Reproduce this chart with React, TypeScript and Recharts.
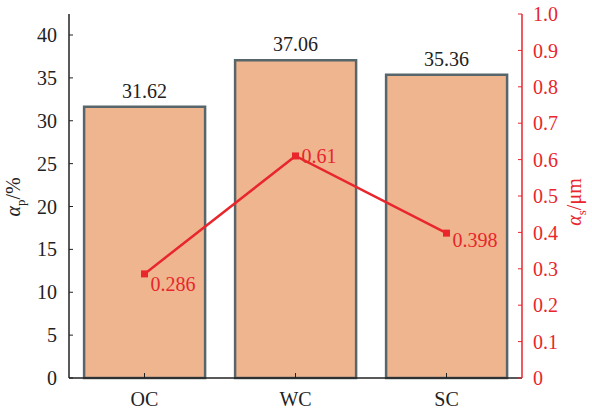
import { ComposedChart, Bar, Line, XAxis, YAxis, LabelList, Label } from 'recharts';

const groups = ['OC', 'WC', 'SC'];
const porosity = [31.62, 37.06, 35.36];
const poreSize = [0.286, 0.61, 0.398];

const leftTicks = [0, 5, 10, 15, 20, 25, 30, 35, 40];
const rightTicks = [0, 0.1, 0.2, 0.3, 0.4, 0.5, 0.6, 0.7, 0.8, 0.9, 1.0];

const data = groups.map((g, i) => ({ name: g, ap: porosity[i], as: poreSize[i] }));

const FONT = "'Liberation Serif', 'DejaVu Serif', serif";
const RED = '#e8262c';
const DARK = '#222';

// vertical nudges for the red point labels
const pointLabelDy = [17, 7, 14];

const PointLabel = (props: any) => {
  const { x, y, value, index } = props;
  return (
    <text x={x + 6} y={y + pointLabelDy[index]} fill={RED} fontSize={20} style={{ fontFamily: FONT }} textAnchor="start">
      {value}
    </text>
  );
};

const SquareDot = (props: any) => {
  const { cx, cy } = props;
  return <rect x={cx - 3.5} y={cy - 3.5} width={7} height={7} fill={RED} />;
};

const LeftTitle = () => (
  <text x={20} y={197} transform="rotate(-90, 20, 197)" textAnchor="middle" style={{ fontFamily: FONT }} fontSize={20} fill={DARK}>
    <tspan fontStyle="italic">α</tspan>
    <tspan fontSize={13} dy={5}>p</tspan>
    <tspan dy={-5}>/%</tspan>
  </text>
);

const RightTitle = () => (
  <text x={581} y={202} transform="rotate(-90, 581, 202)" textAnchor="middle" style={{ fontFamily: FONT }} fontSize={20} fill={RED}>
    <tspan fontStyle="italic">α</tspan>
    <tspan fontSize={13} dy={5}>s</tspan>
    <tspan dy={-5}>/μm</tspan>
  </text>
);

const tickStyle = (fill: string) => ({ fill, fontSize: 20, style: { fontFamily: FONT } });

export default function App() {
  return (
    <div style={{ position: 'absolute', left: 0, top: 0, width: 592, height: 412, background: '#fff', fontFamily: FONT }}>
      <ComposedChart
        width={592}
        height={412}
        data={data}
        margin={{ top: 14, right: 0, bottom: 0, left: 0 }}
        barCategoryGap="10%"
        style={{ fontFamily: FONT }}
      >
        <XAxis
          dataKey="name"
          height={34}
          axisLine={{ stroke: DARK, strokeWidth: 1.5 }}
          tickLine={{ stroke: DARK }}
          tickSize={-5}
          tickMargin={19}
          tick={tickStyle(DARK)}
        />
        <XAxis
          xAxisId="top"
          dataKey="name"
          orientation="top"
          height={0}
          tick={false}
          tickLine={false}
          axisLine={{ stroke: DARK, strokeWidth: 1.5 }}
        />
        <YAxis
          yAxisId="left"
          width={69}
          domain={[0, 42.45]}
          ticks={leftTicks}
          interval={0}
          axisLine={{ stroke: DARK, strokeWidth: 1.5 }}
          tickLine={{ stroke: DARK }}
          tickSize={-4}
          tickMargin={16}
          tick={tickStyle(DARK)}
        >
          <Label content={<LeftTitle />} />
        </YAxis>
        <YAxis
          yAxisId="right"
          orientation="right"
          width={70}
          domain={[0, 1]}
          ticks={rightTicks}
          interval={0}
          tickFormatter={(v: number) => (v === 0 ? '0' : v.toFixed(1))}
          axisLine={{ stroke: RED, strokeWidth: 1.5 }}
          tickLine={{ stroke: RED }}
          tickSize={-4}
          tickMargin={15}
          tick={tickStyle(RED)}
        >
          <Label content={<RightTitle />} />
        </YAxis>
        <Bar
          yAxisId="left"
          dataKey="ap"
          fill="#efb58f"
          stroke="#56666a"
          strokeWidth={2.5}
          isAnimationActive={false}
        >
          <LabelList dataKey="ap" position="top" offset={9} fill={DARK} fontSize={20} style={{ fontFamily: FONT }} />
        </Bar>
        <Line
          yAxisId="right"
          dataKey="as"
          stroke={RED}
          strokeWidth={2.5}
          dot={<SquareDot />}
          activeDot={false}
          isAnimationActive={false}
        >
          <LabelList dataKey="as" content={<PointLabel />} />
        </Line>
      </ComposedChart>
    </div>
  );
}
